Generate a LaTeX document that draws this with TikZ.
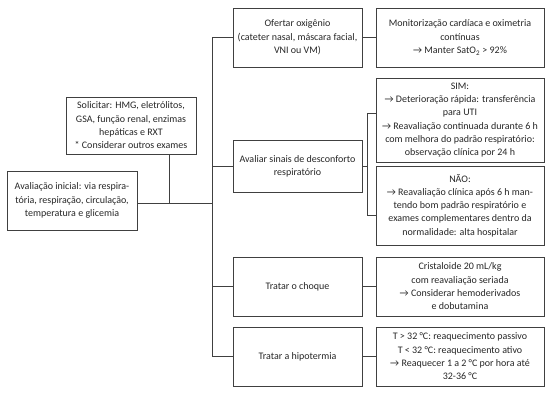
\documentclass[tikz,border=0pt]{standalone}
\usepackage{fontspec}
\setmainfont{Carlito}
\begin{document}
\begin{tikzpicture}[x=1pt,y=-1pt,
  box/.style={draw=black!75, line width=0.8pt, align=center, inner sep=0pt,
    font=\fontsize{10}{13.3}\selectfont, text=black!85},
  conn/.style={draw=black!75, line width=0.8pt}]
\useasboundingbox (0,0) rectangle (550,392);
% left column
\node[box, minimum width=130pt, minimum height=59pt] (init) at (72,200.5)
  {Avaliação inicial: via respira-\\tória, respiração, circulação,\\temperatura e glicemia};
\node[box, minimum width=130pt, minimum height=57pt] (solic) at (131,125.5)
  {Solicitar: HMG, eletrólitos,\\GSA, função renal, enzimas\\hepáticas e RXT\\* Considerar outros exames};
% middle column
\node[box, minimum width=129pt, minimum height=59pt] (ofertar) at (297.5,37.5)
  {Ofertar oxigênio\\(cateter nasal, máscara facial,\\VNI ou VM)};
\node[box, minimum width=129pt, minimum height=52pt] (avaliar) at (297.5,166)
  {Avaliar sinais de desconforto\\respiratório};
\node[box, minimum width=129pt, minimum height=59pt] (choque) at (297.5,286.5)
  {Tratar o choque};
\node[box, minimum width=129pt, minimum height=59pt] (hipo) at (297.5,356.5)
  {Tratar a hipotermia};
% right column
\node[box, minimum width=168pt, minimum height=59pt] (monit) at (460,37.5)
  {Monitorização cardíaca e oximetria\\contínuas\\→ Manter SatO\textsubscript{2} > 92\%};
\node[box, minimum width=168pt, minimum height=84pt] (sim) at (460,120)
  {SIM:\\→ Deterioração rápida: transferência\\para UTI\\→ Reavaliação continuada durante 6 h\\com melhora do padrão respiratório:\\observação clínica por 24 h};
\node[box, minimum width=168pt, minimum height=79pt] (nao) at (460,205.5)
  {NÃO:\\→ Reavaliação clínica após 6 h man-\\tendo bom padrão respiratório e\\exames complementares dentro da\\normalidade: alta hospitalar};
\node[box, minimum width=168pt, minimum height=59pt] (crist) at (460,286.5)
  {Cristaloide 20 mL/kg\\com reavaliação seriada\\→ Considerar hemoderivados\\e dobutamina};
\node[box, minimum width=168pt, minimum height=59pt] (temp) at (460,356.5)
  {T > 32 °C: reaquecimento passivo\\T < 32 °C: reaquecimento ativo\\→ Reaquecer 1 a 2 °C por hora até\\32-36 °C};
% connectors
\coordinate (spT) at (212,37.5);
\coordinate (spB) at (212,356.5);
\draw[conn] (spT) -- (spB);
\draw[conn] (ofertar.west) -- (ofertar.west -| spT);
\draw[conn] (avaliar.west) -- (avaliar.west -| spT);
\draw[conn] (choque.west) -- (choque.west -| spT);
\draw[conn] (hipo.west) -- (hipo.west -| spT);
\draw[conn] ([yshift=-2.5pt]init.east) -- ([yshift=-2.5pt]init.east -| spT);
\draw[conn] ([xshift=38pt]solic.south) -- ([xshift=38pt,yshift=-2.5pt]solic.south |- init.east);
\draw[conn] (ofertar.east) -- (monit.west);
\draw[conn] (choque.east) -- (crist.west);
\draw[conn] (hipo.east) -- (temp.west);
\coordinate (bk) at (367,166);
\draw[conn] (avaliar.east) -- (avaliar.east -| bk);
\draw[conn] ([yshift=7pt]sim.west) -- ([yshift=7pt]sim.west -| bk)
  -- ([yshift=-9.5pt]nao.west -| bk) -- ([yshift=-9.5pt]nao.west);
\end{tikzpicture}
\end{document}
